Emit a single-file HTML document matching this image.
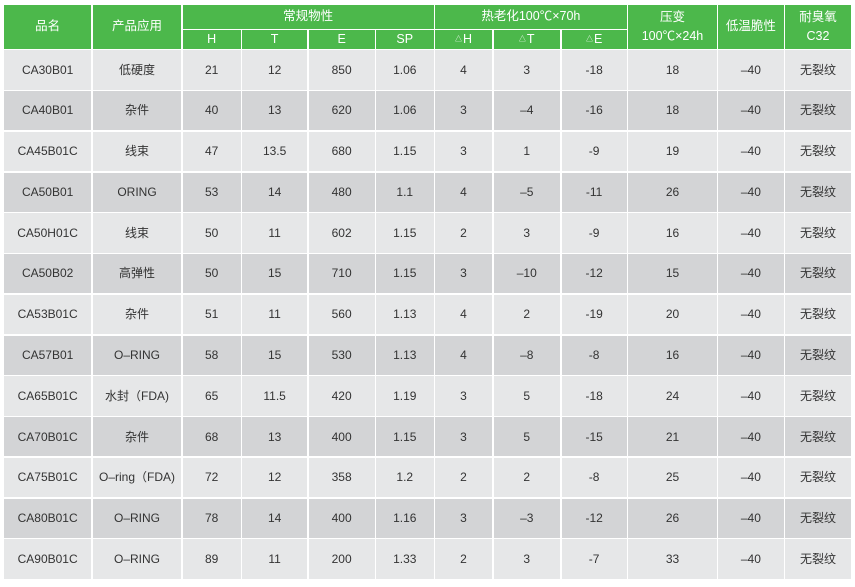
<!DOCTYPE html>
<html><head><meta charset="utf-8">
<style>
html,body{margin:0;padding:0;background:#fff;}
body{width:855px;height:587px;position:relative;overflow:hidden;font-family:"Liberation Sans","Noto Sans CJK SC",sans-serif;font-size:12px;color:#333;}
.c{position:absolute;display:flex;align-items:center;justify-content:center;text-align:center;white-space:nowrap;line-height:1.55;}
.g{background:#4cb84b;color:#fff;font-size:12.5px;}
.l{background:#e6e7e8;}
.d{background:#d3d4d6;}
.t{font-size:7px;position:relative;top:1px;margin-right:1px;}
.c0{left:4px;width:87.25px}
.c1{left:92.75px;width:88.5px}
.c2{left:182.75px;width:57.75px}
.c3{left:242px;width:65.25px}
.c4{left:308.75px;width:65.75px}
.c5{left:376px;width:57.5px}
.c6{left:435px;width:57px}
.c7{left:493.5px;width:66.5px}
.c8{left:561.5px;width:65.25px}
.c9{left:628.25px;width:88.5px}
.c10{left:718.25px;width:65.25px}
.c11{left:785px;width:66px}
.hh{top:5px;height:43.75px}
.hg{top:5px;height:23.75px}
.hs{top:30.25px;height:18.5px}
.r0{top:50.25px;height:39.27px}
.r1{top:91.02px;height:39.27px}
.r2{top:131.79px;height:39.27px}
.r3{top:172.56px;height:39.27px}
.r4{top:213.33px;height:39.27px}
.r5{top:254.1px;height:39.27px}
.r6{top:294.87px;height:39.27px}
.r7{top:335.64px;height:39.27px}
.r8{top:376.41px;height:39.27px}
.r9{top:417.18px;height:39.27px}
.r10{top:457.95px;height:39.27px}
.r11{top:498.72px;height:39.27px}
.r12{top:539.49px;height:39.51px}
</style></head><body>
<!-- header -->
<div class="c g hh c0">品名</div>
<div class="c g hh c1">产品应用</div>
<div class="c g hg" style="left:182.75px;width:250.75px">常规物性</div>
<div class="c g hs c2">H</div>
<div class="c g hs c3">T</div>
<div class="c g hs c4">E</div>
<div class="c g hs c5">SP</div>
<div class="c g hg" style="left:435px;width:191.75px">热老化100℃×70h</div>
<div class="c g hs c6"><span class="t">△</span>H</div>
<div class="c g hs c7"><span class="t">△</span>T</div>
<div class="c g hs c8"><span class="t">△</span>E</div>
<div class="c g hh c9">压变<br>100℃×24h</div>
<div class="c g hh c10">低温脆性</div>
<div class="c g hh c11">耐臭氧<br>C32</div>

<!-- row 0 -->
<div class="c l r0 c0">CA30B01</div><div class="c l r0 c1">低硬度</div><div class="c l r0 c2">21</div><div class="c l r0 c3">12</div><div class="c l r0 c4">850</div><div class="c l r0 c5">1.06</div><div class="c l r0 c6">4</div><div class="c l r0 c7">3</div><div class="c l r0 c8">-18</div><div class="c l r0 c9">18</div><div class="c l r0 c10">–40</div><div class="c l r0 c11">无裂纹</div>
<!-- row 1 -->
<div class="c d r1 c0">CA40B01</div><div class="c d r1 c1">杂件</div><div class="c d r1 c2">40</div><div class="c d r1 c3">13</div><div class="c d r1 c4">620</div><div class="c d r1 c5">1.06</div><div class="c d r1 c6">3</div><div class="c d r1 c7">–4</div><div class="c d r1 c8">-16</div><div class="c d r1 c9">18</div><div class="c d r1 c10">–40</div><div class="c d r1 c11">无裂纹</div>
<!-- row 2 -->
<div class="c l r2 c0">CA45B01C</div><div class="c l r2 c1">线束</div><div class="c l r2 c2">47</div><div class="c l r2 c3">13.5</div><div class="c l r2 c4">680</div><div class="c l r2 c5">1.15</div><div class="c l r2 c6">3</div><div class="c l r2 c7">1</div><div class="c l r2 c8">-9</div><div class="c l r2 c9">19</div><div class="c l r2 c10">–40</div><div class="c l r2 c11">无裂纹</div>
<!-- row 3 -->
<div class="c d r3 c0">CA50B01</div><div class="c d r3 c1">ORING</div><div class="c d r3 c2">53</div><div class="c d r3 c3">14</div><div class="c d r3 c4">480</div><div class="c d r3 c5">1.1</div><div class="c d r3 c6">4</div><div class="c d r3 c7">–5</div><div class="c d r3 c8">-11</div><div class="c d r3 c9">26</div><div class="c d r3 c10">–40</div><div class="c d r3 c11">无裂纹</div>
<!-- row 4 -->
<div class="c l r4 c0">CA50H01C</div><div class="c l r4 c1">线束</div><div class="c l r4 c2">50</div><div class="c l r4 c3">11</div><div class="c l r4 c4">602</div><div class="c l r4 c5">1.15</div><div class="c l r4 c6">2</div><div class="c l r4 c7">3</div><div class="c l r4 c8">-9</div><div class="c l r4 c9">16</div><div class="c l r4 c10">–40</div><div class="c l r4 c11">无裂纹</div>
<!-- row 5 -->
<div class="c d r5 c0">CA50B02</div><div class="c d r5 c1">高弹性</div><div class="c d r5 c2">50</div><div class="c d r5 c3">15</div><div class="c d r5 c4">710</div><div class="c d r5 c5">1.15</div><div class="c d r5 c6">3</div><div class="c d r5 c7">–10</div><div class="c d r5 c8">-12</div><div class="c d r5 c9">15</div><div class="c d r5 c10">–40</div><div class="c d r5 c11">无裂纹</div>
<!-- row 6 -->
<div class="c l r6 c0">CA53B01C</div><div class="c l r6 c1">杂件</div><div class="c l r6 c2">51</div><div class="c l r6 c3">11</div><div class="c l r6 c4">560</div><div class="c l r6 c5">1.13</div><div class="c l r6 c6">4</div><div class="c l r6 c7">2</div><div class="c l r6 c8">-19</div><div class="c l r6 c9">20</div><div class="c l r6 c10">–40</div><div class="c l r6 c11">无裂纹</div>
<!-- row 7 -->
<div class="c d r7 c0">CA57B01</div><div class="c d r7 c1">O–RING</div><div class="c d r7 c2">58</div><div class="c d r7 c3">15</div><div class="c d r7 c4">530</div><div class="c d r7 c5">1.13</div><div class="c d r7 c6">4</div><div class="c d r7 c7">–8</div><div class="c d r7 c8">-8</div><div class="c d r7 c9">16</div><div class="c d r7 c10">–40</div><div class="c d r7 c11">无裂纹</div>
<!-- row 8 -->
<div class="c l r8 c0">CA65B01C</div><div class="c l r8 c1">水封（FDA)</div><div class="c l r8 c2">65</div><div class="c l r8 c3">11.5</div><div class="c l r8 c4">420</div><div class="c l r8 c5">1.19</div><div class="c l r8 c6">3</div><div class="c l r8 c7">5</div><div class="c l r8 c8">-18</div><div class="c l r8 c9">24</div><div class="c l r8 c10">–40</div><div class="c l r8 c11">无裂纹</div>
<!-- row 9 -->
<div class="c d r9 c0">CA70B01C</div><div class="c d r9 c1">杂件</div><div class="c d r9 c2">68</div><div class="c d r9 c3">13</div><div class="c d r9 c4">400</div><div class="c d r9 c5">1.15</div><div class="c d r9 c6">3</div><div class="c d r9 c7">5</div><div class="c d r9 c8">-15</div><div class="c d r9 c9">21</div><div class="c d r9 c10">–40</div><div class="c d r9 c11">无裂纹</div>
<!-- row 10 -->
<div class="c l r10 c0">CA75B01C</div><div class="c l r10 c1">O–ring（FDA)</div><div class="c l r10 c2">72</div><div class="c l r10 c3">12</div><div class="c l r10 c4">358</div><div class="c l r10 c5">1.2</div><div class="c l r10 c6">2</div><div class="c l r10 c7">2</div><div class="c l r10 c8">-8</div><div class="c l r10 c9">25</div><div class="c l r10 c10">–40</div><div class="c l r10 c11">无裂纹</div>
<!-- row 11 -->
<div class="c d r11 c0">CA80B01C</div><div class="c d r11 c1">O–RING</div><div class="c d r11 c2">78</div><div class="c d r11 c3">14</div><div class="c d r11 c4">400</div><div class="c d r11 c5">1.16</div><div class="c d r11 c6">3</div><div class="c d r11 c7">–3</div><div class="c d r11 c8">-12</div><div class="c d r11 c9">26</div><div class="c d r11 c10">–40</div><div class="c d r11 c11">无裂纹</div>
<!-- row 12 -->
<div class="c l r12 c0">CA90B01C</div><div class="c l r12 c1">O–RING</div><div class="c l r12 c2">89</div><div class="c l r12 c3">11</div><div class="c l r12 c4">200</div><div class="c l r12 c5">1.33</div><div class="c l r12 c6">2</div><div class="c l r12 c7">3</div><div class="c l r12 c8">-7</div><div class="c l r12 c9">33</div><div class="c l r12 c10">–40</div><div class="c l r12 c11">无裂纹</div>
</body></html>
